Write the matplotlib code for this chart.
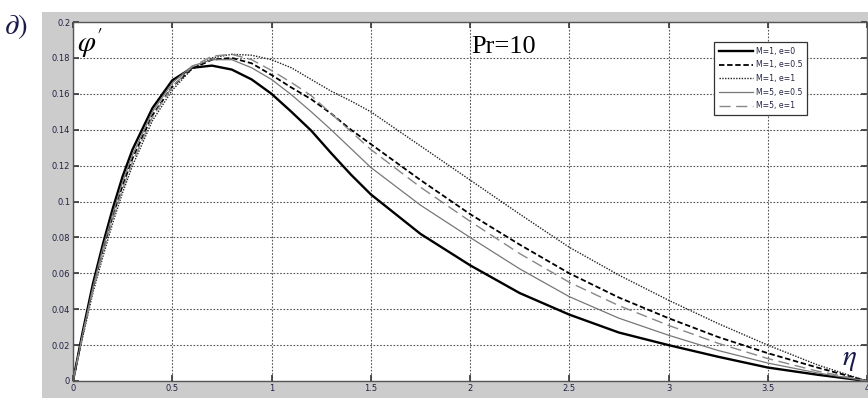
import numpy as np
import matplotlib.pyplot as plt
from matplotlib.patches import Rectangle

plt.rcParams['mathtext.fontset'] = 'stix'

# eta grid and phi' profiles
eta = [0, 0.05, 0.1, 0.15, 0.2, 0.25, 0.3, 0.4, 0.5, 0.6, 0.7, 0.8, 0.9, 1.0,
       1.1, 1.2, 1.3, 1.4, 1.5, 1.75, 2.0, 2.25, 2.5, 2.75, 3.0, 3.25, 3.5, 3.75, 4.0]

m1_e0 = [0, 0.028, 0.054, 0.076, 0.096, 0.114, 0.129, 0.152, 0.1675, 0.1745, 0.1757,
         0.1735, 0.168, 0.160, 0.150, 0.1395, 0.127, 0.115, 0.104, 0.082, 0.0645,
         0.049, 0.037, 0.027, 0.020, 0.0135, 0.0075, 0.0035, 0]
m1_e05 = [0, 0.027, 0.052, 0.073, 0.092, 0.109, 0.124, 0.148, 0.164, 0.174, 0.179,
          0.180, 0.177, 0.1705, 0.1635, 0.157, 0.149, 0.140, 0.132, 0.112, 0.093,
          0.076, 0.060, 0.0465, 0.035, 0.0245, 0.0155, 0.0075, 0]
m1_e1 = [0, 0.025, 0.049, 0.069, 0.088, 0.105, 0.120, 0.145, 0.162, 0.174, 0.180,
         0.182, 0.1815, 0.179, 0.1745, 0.168, 0.1615, 0.156, 0.150, 0.131, 0.112,
         0.093, 0.0745, 0.059, 0.045, 0.032, 0.020, 0.009, 0]
m5_e05 = [0, 0.027, 0.052, 0.074, 0.093, 0.111, 0.126, 0.150, 0.166, 0.1755, 0.179,
          0.179, 0.1745, 0.168, 0.1595, 0.150, 0.140, 0.1295, 0.119, 0.098, 0.080,
          0.0625, 0.047, 0.035, 0.0255, 0.017, 0.010, 0.0045, 0]
m5_e1 = [0, 0.026, 0.050, 0.071, 0.090, 0.107, 0.122, 0.147, 0.164, 0.175, 0.181,
         0.182, 0.179, 0.173, 0.1663, 0.159, 0.149, 0.139, 0.129, 0.108, 0.089,
         0.071, 0.055, 0.042, 0.031, 0.021, 0.0125, 0.0055, 0]

labels = ['M=1, e=0', 'M=1, e=0.5', 'M=1, e=1', 'M=5, e=0.5', 'M=5, e=1']
x_ticks = [0, 0.5, 1, 1.5, 2, 2.5, 3, 3.5, 4]
y_ticks = [0, 0.02, 0.04, 0.06, 0.08, 0.1, 0.12, 0.14, 0.16, 0.18, 0.2]
y_ticklabels = ['0', '0.02', '0.04', '0.06', '0.08', '0.1', '0.12', '0.14', '0.16', '0.18', '0.2']

W, H = 868, 398
fig = plt.figure(figsize=(W / 100, H / 100), dpi=100)
fig.patch.set_facecolor('white')

# MATLAB-style grey figure panel behind the axes
panel = Rectangle((42 / W, 0), 1 - 42 / W, 1 - 12 / H, transform=fig.transFigure,
                  facecolor='#cccccc', edgecolor='none', zorder=-10)
fig.add_artist(panel)

ax = fig.add_axes([73 / W, 17 / H, (867 - 73) / W, (381 - 22) / H])
ax.set_zorder(1)
ax.set_facecolor('white')

ax.plot(eta, m1_e0, color='black', lw=1.7, label=labels[0])
ax.plot(eta, m1_e05, color='black', lw=1.3, ls=(0, (3, 1.5)), label=labels[1])
ax.plot(eta, m1_e1, color='#222222', lw=1.0, ls=(0, (1, 1)), label=labels[2])
ax.plot(eta, m5_e05, color='#777777', lw=0.9, label=labels[3])
ax.plot(eta, m5_e1, color='#888888', lw=1.0, ls=(0, (8, 4)), label=labels[4])

ax.set_xlim(0, 4)
ax.set_ylim(0, 0.2)
ax.set_xticks(x_ticks)
ax.set_xticklabels([f'{t:g}' for t in x_ticks])
ax.set_yticks(y_ticks)
ax.set_yticklabels(y_ticklabels)
ax.tick_params(direction='in', top=True, right=True, length=4, width=1.2,
               labelsize=6, colors='#333333', labelcolor='#222244', pad=2)
ax.grid(True, ls=(0, (1.5, 1.5)), color='#555555', lw=0.8)
for s in ax.spines.values():
    s.set_color('#555555')
    s.set_linewidth(1.0)

leg = ax.legend(loc='upper left', bbox_to_anchor=(714 / W, 1 - 42 / H),
                bbox_transform=fig.transFigure, borderaxespad=0, fancybox=False,
                fontsize=5.6, handlelength=4.4, handletextpad=0.4,
                labelspacing=0.6, borderpad=0.6, framealpha=1)
leg.get_frame().set_edgecolor('#333333')
leg.get_frame().set_linewidth(0.9)
for t in leg.get_texts():
    t.set_color('#222244')

fig.text(4 / W, 1 - 34 / H, r'$\partial)$', fontsize=21, color='#1a1a4a')
fig.text(77 / W, 1 - 52 / H, r"$\varphi'$", fontsize=21, zorder=5)
fig.text(471 / W, 1 - 53 / H, 'Pr=10', fontsize=19, family='Liberation Serif', zorder=5)
fig.text(842 / W, 1 - 365 / H, r'$\eta$', fontsize=21, color='#1a1a4a', zorder=5)

fig.savefig('out.png', dpi=100)
